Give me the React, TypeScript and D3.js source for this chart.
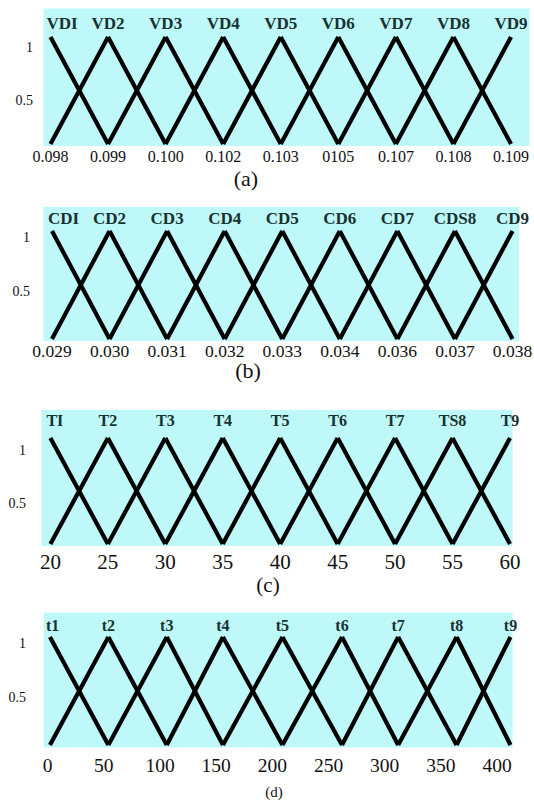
import * as d3 from "d3";

// fuzzy set names (top) and tick labels (bottom) per panel
const vdLabels = ["VDI", "VD2", "VD3", "VD4", "VD5", "VD6", "VD7", "VD8", "VD9"];
const vdTicks = ["0.098", "0.099", "0.100", "0.102", "0.103", "0105", "0.107", "0.108", "0.109"];

const cdLabels = ["CDI", "CD2", "CD3", "CD4", "CD5", "CD6", "CD7", "CDS8", "CD9"];
const cdTicks = ["0.029", "0.030", "0.031", "0.032", "0.033", "0.034", "0.036", "0.037", "0.038"];

const tLabels = ["TI", "T2", "T3", "T4", "T5", "T6", "T7", "TS8", "T9"];
const tPeaks = [20, 25, 30, 35, 40, 45, 50, 55, 60];
const tTicks = [20, 25, 30, 35, 40, 45, 50, 55, 60];

const tsLabels = ["t1", "t2", "t3", "t4", "t5", "t6", "t7", "t8", "t9"];
const tsPeaks = [2, 54, 106, 156, 209, 262, 312, 364, 412];
const tsTicks = [0, 50, 100, 150, 200, 250, 300, 350, 400];

const yTicks = [1, 0.5];
const captions = ["(a)", "(b)", "(c)", "(d)"];

const BG = "#bff8f8";
const LABEL_COLOR = "#173232";
const FONT = "'Liberation Serif', 'Times New Roman', serif";

type Layout = {
  rect: [number, number, number, number]; // x0, y0, x1, y1
  yTop: number;
  yBottom: number;
  labelY: number;
  labelSize: number;
  tickY: number;
  tickSize: number;
  yLabelX: number;
  yLabelDy: number;
  capX: number;
  capY: number;
  capSize: number;
};

function Panel({
  layout,
  labels,
  peaks,
  ticks,
  caption,
}: {
  layout: Layout;
  labels: string[];
  peaks: number[];
  ticks: { text: string; x: number }[];
  caption: string;
}) {
  const y = d3.scaleLinear().domain([0, 1]).range([layout.yBottom, layout.yTop]);
  const [x0, y0, x1, y1] = layout.rect;

  // legs of the triangular membership functions
  const legs: { xa: number; ya: number; xb: number; yb: number }[] = [];
  peaks.forEach((p, i) => {
    if (i > 0) legs.push({ xa: peaks[i - 1], ya: y(0), xb: p, yb: y(1) });
    if (i < peaks.length - 1) legs.push({ xa: p, ya: y(1), xb: peaks[i + 1], yb: y(0) });
  });

  return (
    <g>
      <rect x={x0} y={y0} width={x1 - x0} height={y1 - y0} fill={BG} />
      {legs.map((l, i) => (
        <line
          key={i}
          x1={l.xa}
          y1={l.ya}
          x2={l.xb}
          y2={l.yb}
          stroke="#000"
          strokeWidth={4.2}
          strokeLinecap="butt"
        />
      ))}
      {labels.map((s, i) => (
        <text
          key={s}
          x={i === 0 ? peaks[i] - 4 : peaks[i]}
          y={layout.labelY}
          textAnchor={i === 0 ? "start" : "middle"}
          fontWeight="bold"
          fontSize={layout.labelSize}
          fill={LABEL_COLOR}
        >
          {s}
        </text>
      ))}
      {ticks.map((t, i) => (
        <text key={i} x={t.x} y={layout.tickY} textAnchor="middle" fontSize={layout.tickSize} fill="#111">
          {t.text}
        </text>
      ))}
      {yTicks.map((v) => (
        <text
          key={v}
          x={layout.yLabelX}
          y={y(v) + layout.yLabelDy}
          textAnchor="end"
          dominantBaseline="central"
          fontSize={14}
          fill="#111"
        >
          {v}
        </text>
      ))}
      <text x={layout.capX} y={layout.capY} textAnchor="middle" fontSize={layout.capSize} fill="#111">
        {caption}
      </text>
    </g>
  );
}

const layoutA: Layout = {
  rect: [43.5, 8.5, 529.5, 146],
  yTop: 37, yBottom: 144,
  labelY: 29, labelSize: 17,
  tickY: 162, tickSize: 16,
  yLabelX: 33, yLabelDy: 10,
  capX: 246, capY: 186, capSize: 22,
};
const layoutB: Layout = {
  rect: [43.5, 207, 519, 341],
  yTop: 231, yBottom: 339,
  labelY: 224, labelSize: 17,
  tickY: 357, tickSize: 17.5,
  yLabelX: 30, yLabelDy: 6,
  capX: 248, capY: 378, capSize: 22,
};
const layoutC: Layout = {
  rect: [41.5, 410, 512.5, 546],
  yTop: 438, yBottom: 544,
  labelY: 426, labelSize: 16,
  tickY: 569, tickSize: 21,
  yLabelX: 26, yLabelDy: 12,
  capX: 268, capY: 592, capSize: 21,
};
const layoutD: Layout = {
  rect: [43.6, 612.5, 512.6, 747.5],
  yTop: 637, yBottom: 745,
  labelY: 630.5, labelSize: 16,
  tickY: 772, tickSize: 19.5,
  yLabelX: 26, yLabelDy: 6,
  capX: 274, capY: 797, capSize: 15,
};

export default function App() {
  const xa = d3.scalePoint<string>().domain(vdTicks).range([50.5, 511]);
  const xb = d3.scalePoint<string>().domain(cdTicks).range([52, 512.5]);
  const xc = d3.scaleLinear().domain([20, 60]).range([50.4, 510]);
  const xd = d3.scaleLinear().domain([0, 400]).range([47.7, 497]);

  return (
    <svg
      width={534}
      height={802}
      style={{ position: "absolute", left: 0, top: 0, background: "#fff", fontFamily: FONT }}
    >
      <Panel
        layout={layoutA}
        labels={vdLabels}
        peaks={vdTicks.map((t) => xa(t) as number)}
        ticks={vdTicks.map((t) => ({ text: t, x: xa(t) as number }))}
        caption={captions[0]}
      />
      <Panel
        layout={layoutB}
        labels={cdLabels}
        peaks={cdTicks.map((t) => xb(t) as number)}
        ticks={cdTicks.map((t) => ({ text: t, x: xb(t) as number }))}
        caption={captions[1]}
      />
      <Panel
        layout={layoutC}
        labels={tLabels}
        peaks={tPeaks.map((v) => xc(v))}
        ticks={tTicks.map((v) => ({ text: String(v), x: xc(v) }))}
        caption={captions[2]}
      />
      <Panel
        layout={layoutD}
        labels={tsLabels}
        peaks={tsPeaks.map((v) => xd(v))}
        ticks={tsTicks.map((v) => ({ text: String(v), x: xd(v) }))}
        caption={captions[3]}
      />
    </svg>
  );
}
